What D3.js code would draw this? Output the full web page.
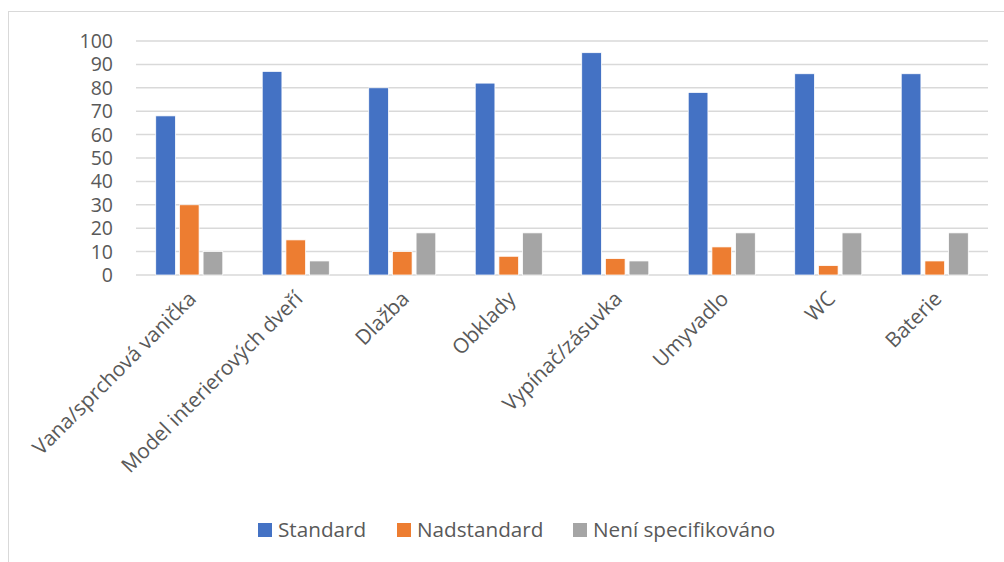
<!DOCTYPE html>
<html>
<head>
<meta charset="utf-8">
<script src="https://cdn.jsdelivr.net/npm/d3@7"></script>
<style>
  body { margin: 0; background: #fff; }
  text { font-family: "Open Sans", "Noto Sans", sans-serif; fill: #595959; }
</style>
</head>
<body>
<div id="chart"></div>
<script>
var categories = ['Vana/sprchová vanička', 'Model interierových dveří', 'Dlažba', 'Obklady',
                  'Vypínač/zásuvka', 'Umyvadlo', 'WC', 'Baterie'];
var seriesNames = ['Standard', 'Nadstandard', 'Není specifikováno'];
var standard = [68, 87, 80, 82, 95, 78, 86, 86];
var nadstandard = [30, 15, 10, 8, 7, 12, 4, 6];
var neniSpec = [10, 6, 18, 18, 6, 18, 18, 18];
var yTicks = [0, 10, 20, 30, 40, 50, 60, 70, 80, 90, 100];
var colors = ['#4472C4', '#ED7D31', '#A5A5A5'];

var width = 1004;
var height = 562;
var values = [standard, nadstandard, neniSpec];

var svg = d3.select('#chart')
    .append('svg')
    .attr('width', width)
    .attr('height', height);

// chart border
svg.append('rect')
    .attr('x', 8.5)
    .attr('y', 11.5)
    .attr('width', 1010)
    .attr('height', 560)
    .attr('fill', 'none')
    .attr('stroke', '#d9d9d9')
    .attr('stroke-width', 1);

var plotLeft = 136, plotRight = 988, plotTop = 41, plotBottom = 275;

var x = d3.scaleBand()
    .domain(categories)
    .range([plotLeft, plotRight])
    .paddingInner(0.333)
    .paddingOuter(0.1665);

var xSub = d3.scaleBand()
    .domain(seriesNames)
    .range([0, x.bandwidth()]);

var y = d3.scaleLinear()
    .domain([0, 100])
    .range([plotBottom, plotTop]);

// gridlines
svg.append('g')
    .selectAll('line')
    .data(yTicks)
    .enter()
    .append('line')
    .attr('x1', plotLeft)
    .attr('x2', plotRight)
    .attr('y1', (d) => y(d))
    .attr('y2', (d) => y(d))
    .attr('stroke', '#d9d9d9')
    .attr('stroke-width', 1.5);

// y tick labels
svg.append('g')
    .selectAll('text')
    .data(yTicks)
    .enter()
    .append('text')
    .attr('x', 113)
    .attr('y', (d) => y(d))
    .attr('dy', '0.36em')
    .attr('text-anchor', 'end')
    .attr('font-size', 19.5)
    .text((d) => d);

// bars
var groups = svg.append('g')
    .selectAll('g')
    .data(seriesNames)
    .enter()
    .append('g')
    .attr('fill', (d, i) => colors[i]);

groups.selectAll('rect')
    .data((s, si) => categories.map((c, ci) => ({ cat: c, series: s, value: values[si][ci] })))
    .enter()
    .append('rect')
    .attr('x', (d) => x(d.cat) + xSub(d.series) + 2)
    .attr('y', (d) => y(d.value))
    .attr('width', xSub.bandwidth() - 4)
    .attr('height', (d) => plotBottom - y(d.value))
    .attr('stroke', '#fff')
    .attr('stroke-width', 0.75);

// category labels
svg.append('g')
    .selectAll('text')
    .data(categories)
    .enter()
    .append('text')
    .attr('transform', (d) => 'translate(' + (x(d) + x.bandwidth() / 2 + 3) + ',' + (plotBottom + 20) + ') rotate(-45)')
    .attr('text-anchor', 'end')
    .attr('dy', '0.35em')
    .attr('font-size', 20.7)
    .text((d) => d);

// legend
var legendX = [258, 397, 573];
var legend = svg.append('g')
    .selectAll('g')
    .data(seriesNames)
    .enter()
    .append('g')
    .attr('transform', (d, i) => 'translate(' + legendX[i] + ',523)');

legend.append('rect')
    .attr('width', 14)
    .attr('height', 14)
    .attr('fill', (d, i) => colors[i]);

legend.append('text')
    .attr('x', 20)
    .attr('y', 7)
    .attr('dy', '0.35em')
    .attr('font-size', 20.7)
    .text((d) => d);
</script>
</body>
</html>
